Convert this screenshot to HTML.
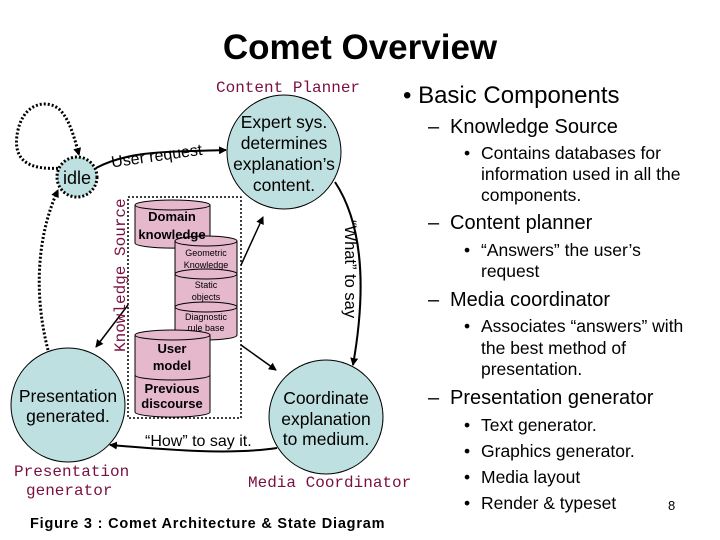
<!DOCTYPE html>
<html><head><meta charset="utf-8"><style>
html,body{margin:0;padding:0;background:#fff;}
svg{display:block}
text{font-family:"Liberation Sans",sans-serif;}
.m{font-family:"Liberation Mono",monospace;fill:#7a1040;}
</style></head><body>
<svg width="720" height="540" viewBox="0 0 720 540" xmlns="http://www.w3.org/2000/svg">
<defs>
<marker id="a" markerWidth="8" markerHeight="8" refX="7" refY="4" orient="auto" markerUnits="userSpaceOnUse"><path d="M0,0 L8,4 L0,8 z" fill="#000"/></marker>
</defs>
<text x="360" y="59" text-anchor="middle" font-size="35" font-weight="bold">Comet Overview</text>

<path d="M62,168 C35,170 10,165 18,130 C25,100 50,100 60,110 C70,120 75,140 79,155" fill="none" stroke="#000" stroke-width="3" stroke-dasharray="2,2" marker-end="url(#a)"/>
<path d="M48,350 C35,300 35,240 58,190" fill="none" stroke="#000" stroke-width="3" stroke-dasharray="2,2" marker-end="url(#a)"/>

<circle cx="77" cy="177" r="20" fill="#bfe0e0" stroke="#000" stroke-width="3" stroke-dasharray="2,2"/>
<text x="77" y="184" text-anchor="middle" font-size="18">idle</text>
<circle cx="284" cy="152" r="57" fill="#bfe0e0" stroke="#000" stroke-width="1"/>
<g font-size="17.5" text-anchor="middle">
<text x="284" y="128">Expert sys.</text>
<text x="284" y="149">determines</text>
<text x="284" y="170">explanation’s</text>
<text x="284" y="191">content.</text>
</g>
<circle cx="68" cy="405" r="57" fill="#bfe0e0" stroke="#000" stroke-width="1"/>
<g font-size="17.5" text-anchor="middle">
<text x="68" y="402">Presentation</text>
<text x="68" y="422">generated.</text>
</g>
<circle cx="326" cy="417" r="57" fill="#bfe0e0" stroke="#000" stroke-width="1"/>
<g font-size="17.5" text-anchor="middle">
<text x="326" y="404">Coordinate</text>
<text x="326" y="425">explanation</text>
<text x="326" y="445">to medium.</text>
</g>

<path d="M96,168 C130,150 170,152 226,150" fill="none" stroke="#000" stroke-width="2" marker-end="url(#a)"/>
<text x="110" y="162" font-size="16" transform="rotate(-8 150 150)">User request</text>
<path d="M335,182 C360,220 368,280 353,365" fill="none" stroke="#000" stroke-width="2" marker-end="url(#a)"/>
<text x="345" y="220" font-size="16.5" transform="rotate(90 345 220)">“What” to say</text>
<path d="M277,448 C230,455 170,450 110,445" fill="none" stroke="#000" stroke-width="2" marker-end="url(#a)"/>
<text x="145" y="446" font-size="16">“How” to say it.</text>
<line x1="241" y1="265" x2="263" y2="217" stroke="#000" stroke-width="1.5" marker-end="url(#a)"/>
<line x1="241" y1="345" x2="276" y2="370" stroke="#000" stroke-width="1.5" marker-end="url(#a)"/>
<line x1="128" y1="305" x2="96" y2="347" stroke="#000" stroke-width="1.5" marker-end="url(#a)"/>

<rect x="128" y="197" width="113" height="221" fill="none" stroke="#000" stroke-width="1.5" stroke-dasharray="2,2"/>
<text class="m" x="125" y="352" font-size="16" transform="rotate(-90 125 352)">Knowledge Source</text>

<g fill="#e6b8cc" stroke="#000" stroke-width="1">
<path d="M135,205 v38 a37,5 0 0 0 75,0 v-38"/><ellipse cx="172.5" cy="205" rx="37.5" ry="5"/>
<path d="M175,241 v33 a31,5 0 0 0 62,0 v-33"/><ellipse cx="206" cy="241" rx="31" ry="5"/>
<path d="M175,274 v33 a31,5 0 0 0 62,0 v-33"/><ellipse cx="206" cy="274" rx="31" ry="5"/>
<path d="M175,307 v28 a31,5 0 0 0 62,0 v-28"/><ellipse cx="206" cy="307" rx="31" ry="5"/>
<path d="M135,335 v40 a37,5 0 0 0 75,0 v-40"/><ellipse cx="172.5" cy="335" rx="37.5" ry="5"/>
<path d="M135,375 v37 a37,5 0 0 0 75,0 v-37"/>
</g>
<path d="M135,375 a37.5,5 0 0 0 75,0" fill="none" stroke="#000"/>
<g font-weight="bold" font-size="13" text-anchor="middle">
<text x="172" y="221">Domain</text><text x="172" y="239">knowledge</text>
<text x="172" y="353">User</text><text x="172" y="370">model</text>
<text x="172" y="393">Previous</text><text x="172" y="408">discourse</text>
</g>
<g font-size="9" text-anchor="middle">
<text x="206" y="256">Geometric</text><text x="206" y="268">Knowledge</text>
<text x="206" y="288">Static</text><text x="206" y="300">objects</text>
<text x="206" y="320">Diagnostic</text><text x="206" y="331">rule base</text>
</g>

<text class="m" x="216" y="92" font-size="16">Content Planner</text>
<text class="m" x="14" y="476" font-size="16">Presentation</text>
<text class="m" x="26" y="495" font-size="16">generator</text>
<text class="m" x="248" y="487" font-size="16">Media Coordinator</text>

<text x="403" y="103" font-size="24">• Basic Components</text>
<g font-size="20"><text x="428" y="133">–</text><text x="450" y="133">Knowledge Source</text>
<text x="428" y="229">–</text><text x="450" y="229">Content planner</text>
<text x="428" y="306">–</text><text x="450" y="306">Media coordinator</text>
<text x="428" y="404">–</text><text x="450" y="404">Presentation generator</text></g>
<g font-size="17.5">
<text x="464" y="159">•</text><text x="481" y="159">Contains databases for</text>
<text x="481" y="180">information used in all the</text>
<text x="481" y="201">components.</text>
<text x="464" y="256">•</text><text x="481" y="256">“Answers” the user’s</text>
<text x="481" y="277">request</text>
<text x="464" y="332">•</text><text x="481" y="332">Associates “answers” with</text>
<text x="481" y="354">the best method of</text>
<text x="481" y="375">presentation.</text>
<text x="464" y="431">•</text><text x="481" y="431">Text generator.</text>
<text x="464" y="457">•</text><text x="481" y="457">Graphics generator.</text>
<text x="464" y="483">•</text><text x="481" y="483">Media layout</text>
<text x="464" y="509">•</text><text x="481" y="509">Render &amp; typeset</text>
</g>
<text x="668" y="510" font-size="13">8</text>
<text x="30" y="528" font-size="14.5" font-weight="bold" letter-spacing="0.8">Figure 3 : Comet Architecture &amp; State Diagram</text>
</svg>
</body></html>
